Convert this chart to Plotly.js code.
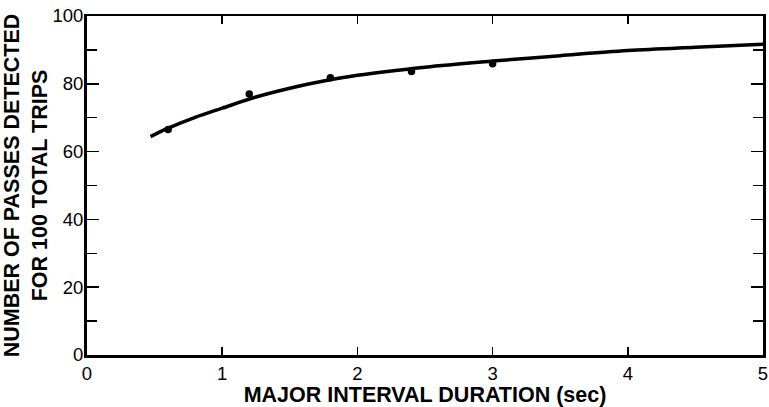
<!DOCTYPE html>
<html>
<head>
<meta charset="utf-8">
<script src="https://cdn.plot.ly/plotly-3.0.1.min.js"></script>
<style>html,body{margin:0;padding:0;background:#fff;}#chart{width:769px;height:407px;}</style>
</head>
<body>
<div id="chart"></div>
<script>
// Observed data points
const pointX = [0.6, 1.2, 1.8, 2.4, 3.0];
const pointY = [66.5, 77.0, 81.8, 83.6, 85.9];
// Fitted curve
const curveX = [0.47, 0.6, 0.8, 1.0, 1.25, 1.5, 1.75, 2.0, 2.5, 3.0, 3.5, 4.0, 4.5, 5.0];
const curveY = [64.4, 66.9, 70.1, 72.8, 76.1, 78.7, 80.8, 82.5, 84.9, 86.7, 88.3, 89.8, 90.8, 91.7];
const xTicks = [0, 1, 2, 3, 4, 5];
const yTicks = [0, 20, 40, 60, 80, 100];

const fontFam = "Liberation Sans, Arial, sans-serif";

const traces = [
  {x: curveX, y: curveY, type: 'scatter', mode: 'lines', line: {color: '#000', width: 3.5, shape: 'spline', smoothing: 1}, hoverinfo: 'skip', cliponaxis: false},
  {x: pointX, y: pointY, type: 'scatter', mode: 'markers', marker: {color: '#000', size: 7.5}, cliponaxis: false}
];

const layout = {
  width: 769, height: 407,
  margin: {l: 87, r: 6, t: 16, b: 52},
  paper_bgcolor: '#fff', plot_bgcolor: '#fff',
  showlegend: false,
  font: {family: fontFam, color: '#000', size: 18},
  xaxis: {
    range: [0, 5], tickvals: xTicks, ticktext: xTicks.map(String),
    ticks: 'inside', ticklen: 8, tickwidth: 1.5, tickcolor: '#000',
    showline: true, linecolor: '#000', linewidth: 2.5, mirror: 'ticks',
    showgrid: false, zeroline: false,
    ticklabeloverflow: 'allow',
    tickfont: {family: fontFam, size: 18.5, color: '#000'},
    title: {text: 'MAJOR INTERVAL DURATION (sec)', font: {family: fontFam, size: 21.5, color: '#000', weight: 'bold'}, standoff: 3}
  },
  yaxis: {
    range: [0, 100], tickvals: yTicks, ticktext: yTicks.map(String),
    ticks: 'inside', ticklen: 12, tickwidth: 1.5, tickcolor: '#000',
    minor: {dtick: 10, ticks: 'inside', ticklen: 10, tickwidth: 1.5, tickcolor: '#000', showgrid: false},
    showline: true, linecolor: '#000', linewidth: 3, mirror: 'ticks',
    showgrid: false, zeroline: false,
    ticklabelstandoff: -3,
    tickfont: {family: fontFam, size: 18.5, color: '#000'},
    title: {text: 'NUMBER OF PASSES DETECTED<br>FOR 100 TOTAL TRIPS', font: {family: fontFam, size: 21.5, color: '#000', weight: 'bold'}, standoff: 4}
  }
};

Plotly.newPlot('chart', traces, layout, {staticPlot: true, displayModeBar: false});
</script>
</body>
</html>
